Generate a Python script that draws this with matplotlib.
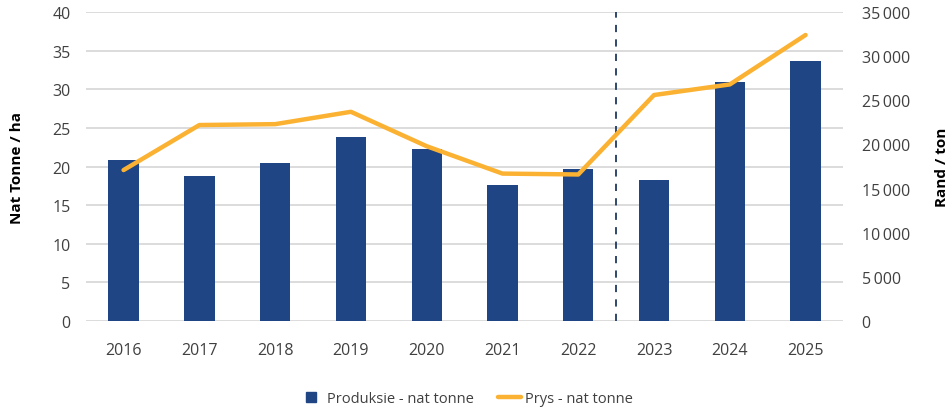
import matplotlib
matplotlib.use("Agg")
import matplotlib.pyplot as plt
from matplotlib.lines import Line2D
import numpy as np

years = ["2016", "2017", "2018", "2019", "2020", "2021", "2022", "2023", "2024", "2025"]
produksie = [20.8, 18.8, 20.5, 23.8, 22.3, 17.6, 19.7, 18.3, 30.9, 33.7]
prys = [17100, 22200, 22300, 23700, 19800, 16700, 16600, 25600, 26800, 32400]
left_ticks = [0, 5, 10, 15, 20, 25, 30, 35, 40]
right_ticks = [0, 5000, 10000, 15000, 20000, 25000, 30000, 35000]

plt.rcParams['font.family'] = ['Open Sans', 'DejaVu Sans']

fig = plt.figure(figsize=(9.52, 4.10), dpi=100)
ax = fig.add_axes([0.090, 0.2146, 0.796, 0.7536])
ax2 = ax.twinx()

x = np.arange(len(years))
bar_color = "#1F4585"
line_color = "#FBB232"
tick_color = "#404040"

ax.set_axisbelow(True)
ax.grid(axis='y', color='#D9D9D9', linewidth=1.3)
bars = ax.bar(x, produksie, width=0.4, color=bar_color, zorder=2)
ax.set_ylim(0, 40)
ax.set_yticks(left_ticks)
ax.set_xlim(-0.5, len(years) - 0.5)
ax.set_xticks(x)
ax.set_xticklabels(years)
ax.axvline(6.5, color="#1F3A5F", linestyle=(0, (4, 4)), linewidth=1.3, zorder=3)

line, = ax2.plot(x, prys, color=line_color, linewidth=3.2, zorder=4, solid_capstyle='round')
ax2.set_ylim(0, 35000)
ax2.set_yticks(right_ticks)
ax2.set_yticklabels([f"{v:,}".replace(",", "\u2009") if v else "0" for v in right_ticks])

for a in (ax, ax2):
    for s in a.spines.values():
        s.set_visible(False)
    a.tick_params(length=0, labelsize=11.5, labelcolor=tick_color)
ax.tick_params(axis='x', pad=15)
ax.tick_params(axis='y', pad=11)
ax2.tick_params(axis='y', pad=13)

ax.set_ylabel("Nat Tonne / ha", fontsize=11, fontweight='bold', color='black', labelpad=20)
ax2.set_ylabel("Rand / ton", fontsize=11, fontweight='bold', color='black', labelpad=18)

h_bar = Line2D([], [], linestyle='none', marker='s', markersize=7.5, color=bar_color)
h_line = Line2D([], [], color=line_color, linewidth=3.2, solid_capstyle='round')
fig.legend([h_bar, h_line], ["Produksie - nat tonne", "Prys - nat tonne"], loc='center',
           bbox_to_anchor=(0.49, 0.025), ncol=2, frameon=False, fontsize=10.5,
           handlelength=1.6, handletextpad=0.3, columnspacing=1.6, labelcolor=tick_color)

fig.savefig("out.png", dpi=100)
